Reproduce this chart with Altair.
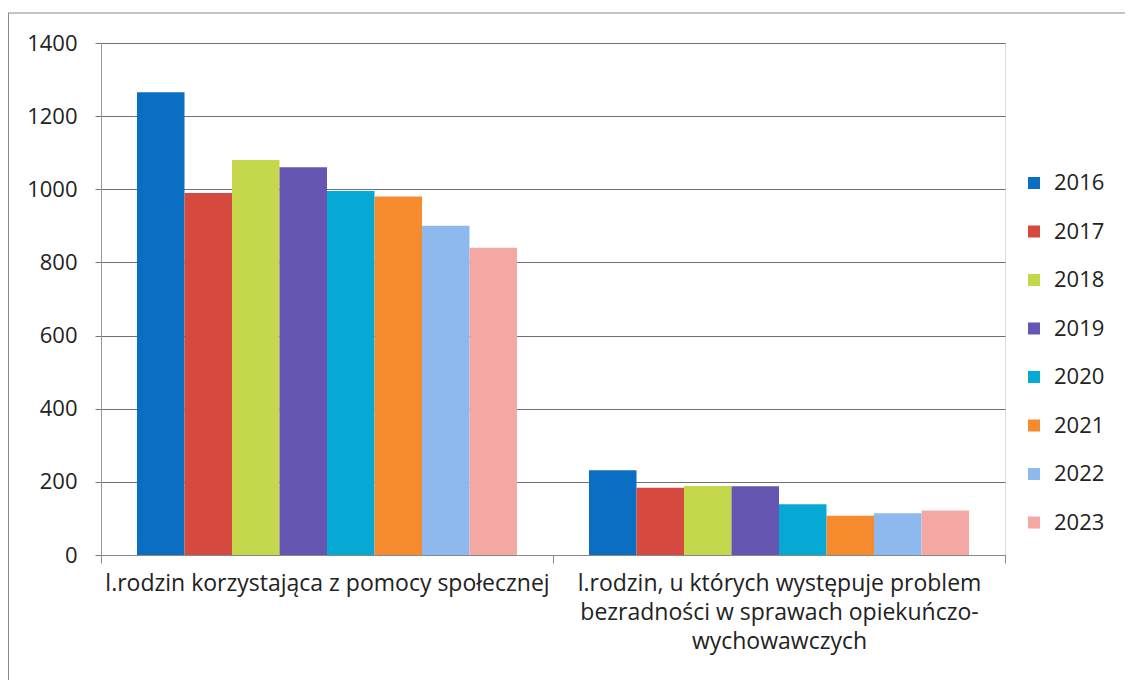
import altair as alt
import pandas as pd

categories = [
    "l.rodzin korzystająca z pomocy społecznej",
    "l.rodzin, u których występuje problem bezradności w sprawach opiekuńczo-wychowawczych",
]
cat2_lines = ["l.rodzin, u których występuje problem", "bezradności w sprawach opiekuńczo-", "wychowawczych"]
years = ["2016", "2017", "2018", "2019", "2020", "2021", "2022", "2023"]
values_cat1 = [1265, 990, 1080, 1060, 995, 980, 900, 840]
values_cat2 = [232, 184, 189, 188, 139, 107, 114, 122]
colors = ["#0A6FC2", "#D5493F", "#C5D84B", "#6556B2", "#06A9D3", "#F68A2E", "#8DB9EF", "#F4A8A4"]

rows = []
for y, v in zip(years, values_cat1):
    rows.append({"kategoria": categories[0], "rok": y, "wartosc": v})
for y, v in zip(years, values_cat2):
    rows.append({"kategoria": categories[1], "rok": y, "wartosc": v})
df = pd.DataFrame(rows)

font = "Open Sans"
label_expr = "datum.value == '%s' ? [%s] : datum.label" % (
    categories[1], ", ".join("'%s'" % s for s in cat2_lines)
)

bars = alt.Chart(df).mark_bar().encode(
    x=alt.X(
        "kategoria:N",
        sort=categories,
        title=None,
        scale=alt.Scale(paddingInner=0, paddingOuter=0),
        axis=alt.Axis(
            labelAngle=0,
            labelExpr=label_expr,
            labelFont=font,
            labelFontSize=23,
            labelColor="#222222",
            labelLineHeight=29,
            labelLimit=0,
            labelPadding=9,
            labelBaseline="top",
            tickBand="extent",
            tickSize=8,
            tickColor="#888888",
            domainColor="#888888",
            grid=False,
        ),
    ),
    xOffset=alt.XOffset("rok:N", sort=years, scale=alt.Scale(paddingInner=0, paddingOuter=0.758)),
    y=alt.Y(
        "wartosc:Q",
        title=None,
        scale=alt.Scale(domain=[0, 1400]),
        axis=alt.Axis(
            values=[0, 200, 400, 600, 800, 1000, 1200, 1400],
            format="d",
            labelFont=font,
            labelFontSize=22,
            labelColor="#222222",
            labelPadding=18,
            tickSize=6,
            tickColor="#777777",
            domainColor="#999999",
            gridColor="#6f6f7a",
            gridWidth=1,
        ),
    ),
    color=alt.Color(
        "rok:N",
        sort=years,
        scale=alt.Scale(domain=years, range=colors),
        legend=alt.Legend(
            title=None,
            orient="none",
            legendX=922,
            legendY=129,
            symbolType="square",
            symbolSize=144,
            symbolStrokeWidth=0,
            labelFont=font,
            labelFontSize=22,
            labelColor="#222222",
            rowPadding=26.5,
            labelOffset=9,
        ),
    ),
)

frame_data = alt.Data(values=[{"f": 1}])
frame_top = alt.Chart(frame_data).mark_rule(color="#8a8a8a", strokeWidth=1).encode(
    x=alt.value(-93), x2=alt.value(1030), y=alt.value(-30)
)
frame_left = alt.Chart(frame_data).mark_rule(color="#8a8a8a", strokeWidth=1).encode(
    x=alt.value(-92.5), y=alt.value(-30), y2=alt.value(640)
)

chart = alt.layer(bars, frame_top, frame_left).properties(
    width=904,
    height=512,
    autosize=alt.AutoSizeParams(type="none"),
    padding={"left": 93, "top": 35, "right": 120, "bottom": 125},
).configure_view(stroke=None).configure(background="white")

chart.save("out.html", embed_options={"renderer": "svg", "actions": False})
